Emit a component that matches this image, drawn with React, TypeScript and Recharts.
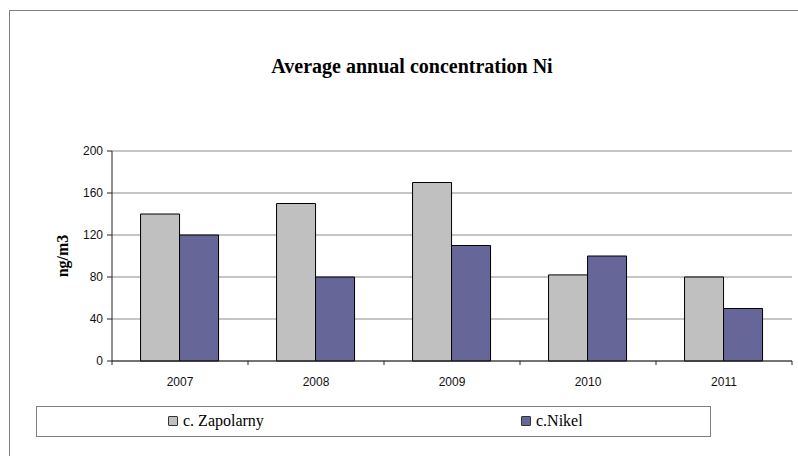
import { Bar, BarChart, CartesianGrid, XAxis, YAxis } from "recharts"

const years = ["2007", "2008", "2009", "2010", "2011"]
const zapolarny = [140, 150, 170, 82, 80]
const nikel = [120, 80, 110, 100, 50]
const yTicks = [0, 40, 80, 120, 160, 200]

const series = [
  { key: "zapolarny", name: "c. Zapolarny", color: "#c0c0c0" },
  { key: "nikel", name: "c.Nikel", color: "#666699" },
]

const data = years.map((year, i) => ({
  year,
  zapolarny: zapolarny[i],
  nikel: nikel[i],
}))

const W = 798
const H = 456
const margin = { top: 151, right: 6, bottom: 65, left: 50 }
const plotWidth = W - margin.left - 62 - margin.right
const halfBand = plotWidth / years.length / 2

const serif = "'Liberation Serif', 'Times New Roman', serif"
const sans = "'Liberation Sans', Arial, sans-serif"

// category label plus a small tick on each band boundary
function YearTick(props: any) {
  const { x, y, payload, index } = props
  const axisY = y - 16
  return (
    <g>
      <line x1={x - halfBand} y1={axisY} x2={x - halfBand} y2={axisY + 4} stroke="#222" />
      {index === years.length - 1 && (
        <line x1={x + halfBand} y1={axisY} x2={x + halfBand} y2={axisY + 4} stroke="#222" />
      )}
      <text x={x} y={y} dy="0.71em" textAnchor="middle" fontFamily={sans} fontSize={12} fill="#111">
        {payload.value}
      </text>
    </g>
  )
}

function UnitLabel(props: any) {
  const { viewBox } = props
  const cx = viewBox.x + 12
  const cy = viewBox.y + viewBox.height / 2
  return (
    <text
      x={cx}
      y={cy}
      transform={`rotate(-90 ${cx} ${cy})`}
      textAnchor="middle"
      dominantBaseline="central"
      fontFamily={serif}
      fontWeight="bold"
      fontSize={16}
      fill="#000"
    >
      ng/m3
    </text>
  )
}

function LegendBox() {
  const offsets = [131, 484]
  return (
    <div
      style={{
        position: "absolute",
        left: 36,
        top: 406,
        width: 673,
        height: 29,
        border: "1px solid #808080",
        background: "#fff",
        fontFamily: serif,
        fontSize: 16,
        color: "#000",
      }}
    >
      {series.map((s, i) => (
        <div
          key={s.key}
          style={{
            position: "absolute",
            left: offsets[i],
            top: 5,
            display: "flex",
            alignItems: "center",
            lineHeight: "18px",
          }}
        >
          <span
            style={{
              display: "inline-block",
              width: 8,
              height: 8,
              background: s.color,
              border: "1px solid #333",
              borderRadius: 1,
              marginRight: 5,
            }}
          />
          {s.name}
        </div>
      ))}
    </div>
  )
}

export default function App() {
  return (
    <div
      style={{
        position: "absolute",
        left: 0,
        top: 0,
        width: W,
        height: H,
        overflow: "hidden",
        background: "#fff",
      }}
    >
      <div
        style={{
          position: "absolute",
          left: 9,
          top: 10,
          width: 820,
          height: 470,
          borderLeft: "1px solid #808080",
          borderTop: "1px solid #808080",
        }}
      />
      <div
        style={{
          position: "absolute",
          left: 0,
          top: 56,
          width: 824,
          textAlign: "center",
          fontFamily: serif,
          fontWeight: "bold",
          fontSize: 20,
          lineHeight: "20px",
        }}
      >
        Average annual concentration Ni
      </div>
      <div style={{ position: "absolute", left: 0, top: 0 }}>
        <BarChart
          width={W}
          height={H}
          data={data}
          margin={margin}
          barCategoryGap="21%"
          barGap={0}
        >
          <CartesianGrid vertical={false} stroke="#8c8c8c" yAxisId="left" />
          <XAxis
            dataKey="year"
            height={30}
            stroke="#222"
            tickLine={false}
            tickSize={4}
            tickMargin={12}
            tick={<YearTick />}
            interval={0}
          />
          <YAxis
            yAxisId="left"
            width={62}
            domain={[0, 200]}
            ticks={yTicks}
            stroke="#222"
            tickSize={5}
            tickMargin={4}
            tick={{ fontFamily: sans, fontSize: 12, fill: "#111" }}
            label={<UnitLabel />}
          />
          <YAxis
            yAxisId="frame"
            orientation="right"
            width={0}
            domain={[0, 200]}
            stroke="#8c8c8c"
            tick={false}
            tickLine={false}
          />
          {series.map((s) => (
            <Bar
              key={s.key}
              yAxisId="left"
              dataKey={s.key}
              name={s.name}
              fill={s.color}
              stroke="#000"
              strokeWidth={1}
              isAnimationActive={false}
            />
          ))}
        </BarChart>
      </div>
      <LegendBox />
    </div>
  )
}
